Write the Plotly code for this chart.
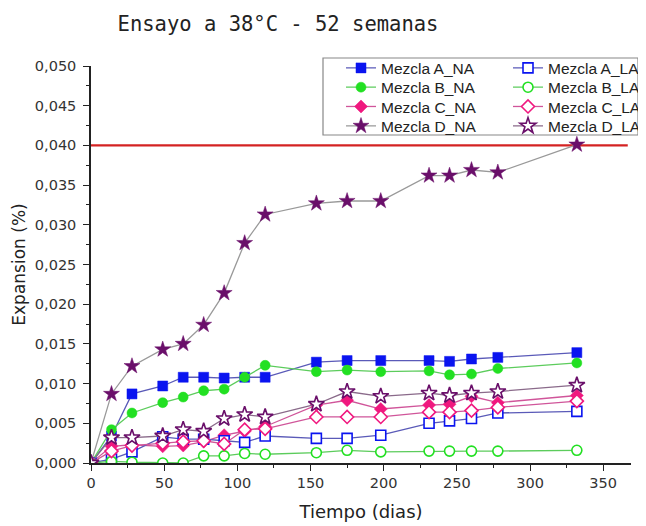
import plotly.graph_objects as go

dias = [0, 14, 28, 49, 63, 77, 91, 105, 119, 154, 175, 198, 231, 245, 260, 278, 332]

a_na = [0, 0.0034, 0.0087, 0.0097, 0.0108, 0.0108, 0.0107, 0.0108, 0.0108, 0.0127, 0.0129, 0.0129, 0.0129, 0.0128, 0.0131, 0.0133, 0.0139]
a_la = [0, 0.0005, 0.0014, 0.0033, 0.0030, 0.0030, 0.0028, 0.0026, 0.0034, 0.0031, 0.0031, 0.0035, 0.0050, 0.0053, 0.0056, 0.0063, 0.0065]
b_na = [0, 0.0042, 0.0063, 0.0076, 0.0083, 0.0091, 0.0093, 0.0108, 0.0123, 0.0115, 0.0117, 0.0115, 0.0116, 0.0111, 0.0112, 0.0119, 0.0126]
b_la = [0, 0.0002, 0.0001, 0.0, 0.0, 0.0009, 0.0009, 0.0012, 0.0011, 0.0013, 0.0016, 0.0014, 0.0015, 0.0015, 0.0015, 0.0015, 0.0016]
c_na = [0, 0.0021, 0.0023, 0.0021, 0.0022, 0.0027, 0.0035, 0.0040, 0.0046, 0.0073, 0.0079, 0.0068, 0.0073, 0.0074, 0.0084, 0.0076, 0.0085]
c_la = [0, 0.0015, 0.0022, 0.0025, 0.0027, 0.0028, 0.0024, 0.0042, 0.0043, 0.0058, 0.0058, 0.0058, 0.0064, 0.0064, 0.0066, 0.0070, 0.0078]
d_na = [0, 0.0087, 0.0122, 0.0143, 0.0150, 0.0174, 0.0214, 0.0277, 0.0313, 0.0327, 0.0330, 0.0330, 0.0362, 0.0362, 0.0369, 0.0366, 0.0401]
d_la = [0, 0.0032, 0.0032, 0.0034, 0.0042, 0.0040, 0.0056, 0.0061, 0.0058, 0.0074, 0.0090, 0.0084, 0.0088, 0.0085, 0.0088, 0.0090, 0.0098]

limite = 0.040

# figure geometry (page body adds an 8px offset)
W, H = 638, 518
ML, MR, MT, MB = 83, 15, 58, 63
PW, PH = W - ML - MR, H - MT - MB


def px_x(x):
    return (x - ML) / PW


def px_y(y):
    return (H - MB - y) / PH


fig = go.Figure()

series = [
    ("Mezcla A_NA", a_na, "square", "#0a14f0", "#5a5ab8", False),
    ("Mezcla B_NA", b_na, "circle", "#22e022", "#5ccc5c", False),
    ("Mezcla C_NA", c_na, "diamond", "#f0187f", "#d0559a", False),
    ("Mezcla D_NA", d_na, "star", "#6a0f6a", "#999999", False),
    ("Mezcla A_LA", a_la, "square", "#0a14f0", "#5a5ab8", True),
    ("Mezcla B_LA", b_la, "circle", "#22e022", "#5ccc5c", True),
    ("Mezcla C_LA", c_la, "diamond", "#f0187f", "#d0559a", True),
    ("Mezcla D_LA", d_la, "star", "#6a0f6a", "#8a6a8a", True),
]

legend_font = dict(family="Liberation Sans, Arial, sans-serif", size=15.5, color="#222222")
row_centers = [60, 79.3, 98.6, 118]
col_x = [333, 500]
legends = {}

for i, (name, vals, sym, mcol, lcol, open_) in enumerate(series):
    size = 12 if sym == "star" else 10
    if open_:
        marker = dict(symbol=sym, size=size, color="white", line=dict(color=mcol, width=1.6))
    else:
        marker = dict(symbol=sym, size=size, color=mcol, line=dict(color=mcol, width=0.5))
    lname = "legend" if i == 0 else f"legend{i + 1}"
    col, row = divmod(i, 4)
    legends[lname] = dict(x=px_x(col_x[col]), y=px_y(row_centers[row] - 16.7),
                          xanchor="left", yanchor="top", bgcolor="rgba(0,0,0,0)",
                          borderwidth=0, font=legend_font)
    fig.add_trace(go.Scatter(
        x=dias, y=vals, name=name, mode="lines+markers", showlegend=True,
        line=dict(color=lcol, width=1.3), marker=marker, legend=lname,
    ))

fig.add_shape(type="line", xref="paper", x0=0, x1=0.994, yref="y", y0=limite, y1=limite,
              line=dict(color="#d42222", width=2.2), layer="below")

# legend frame
fig.add_shape(type="rect", xref="paper", yref="paper",
              x0=px_x(315), x1=px_x(630), y0=px_y(127), y1=px_y(50),
              line=dict(color="#888888", width=1.2), fillcolor="white", layer="below")

tick_font = dict(family="DejaVu Sans, sans-serif", size=14.5, color="#333333")
axis_common = dict(
    showline=True, linecolor="#222222", linewidth=1.5, ticks="outside", ticklen=6,
    tickwidth=1.3, tickcolor="#222222", showgrid=False, zeroline=False, tickfont=tick_font,
)

fig.update_layout(
    width=W, height=H,
    margin=dict(l=ML, r=MR, t=MT, b=MB, autoexpand=False),
    showlegend=True,
    paper_bgcolor="white", plot_bgcolor="white",
    separators=",.",
    title=dict(text="Ensayo a 38°C - 52 semanas", x=270 / W, xanchor="center",
               y=1 - 16 / H, yanchor="middle",
               font=dict(family="DejaVu Sans Mono, monospace", size=20.5, color="#222222")),
    xaxis=dict(range=[0, 369], dtick=50, tick0=0,
               minor=dict(dtick=25, ticks="outside", ticklen=3, tickcolor="#222222"),
               title=dict(text="Tiempo (dias)", standoff=15,
                          font=dict(family="DejaVu Sans, sans-serif", size=18, color="#222222")),
               **axis_common),
    yaxis=dict(range=[0, 0.050], dtick=0.005, tick0=0, tickformat=".3f",
               ticklabelstandoff=4,
               minor=dict(dtick=0.0025, ticks="outside", ticklen=3, tickcolor="#222222"),
               title=dict(text="Expansion (%)", standoff=5,
                          font=dict(family="DejaVu Sans, sans-serif", size=17, color="#222222")),
               **axis_common),
    **legends,
)

fig.write_html("out.html")
